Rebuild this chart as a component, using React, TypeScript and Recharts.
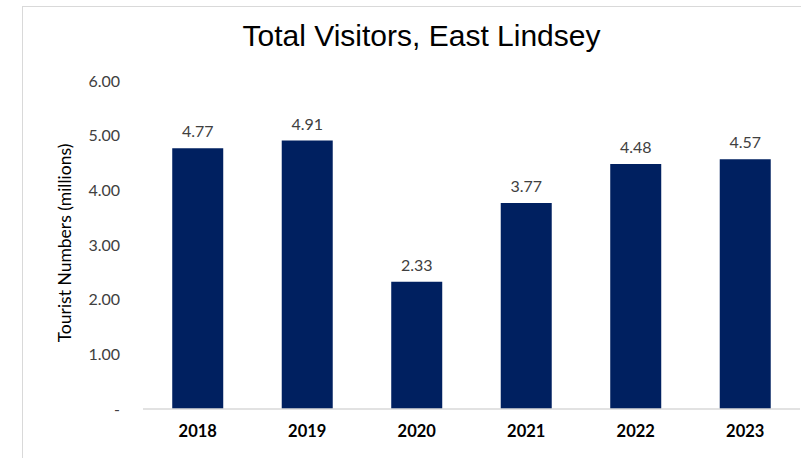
import { Bar, BarChart, LabelList, XAxis, YAxis } from "recharts"

const years = ["2018", "2019", "2020", "2021", "2022", "2023"]
const visitors = [4.77, 4.91, 2.33, 3.77, 4.48, 4.57]
const yTicks = [0, 1, 2, 3, 4, 5, 6]

const data = years.map((year, i) => ({ year, visitors: visitors[i] }))

const font = "Lato, 'Open Sans', sans-serif"

const YLabel = () => (
  <text
    x={0}
    y={0}
    transform="translate(71, 243) rotate(-90)"
    textAnchor="middle"
    fontFamily={font}
    fontSize={17.5}
    fill="#000000"
  >
    Tourist Numbers (millions)
  </text>
)

const App = () => {
  return (
    <div style={{ position: "absolute", left: 0, top: 0, width: 801, height: 458, background: "#fff", overflow: "hidden" }}>
      <div
        style={{
          position: "absolute",
          left: 22,
          top: 6,
          width: 800,
          height: 470,
          border: "1.5px solid #d9d9d9",
        }}
      />
      <div
        style={{
          position: "absolute",
          left: 0,
          top: 19,
          width: 843,
          textAlign: "center",
          fontFamily: "'Liberation Sans', Arial, sans-serif",
          fontSize: 30,
          color: "#000",
        }}
      >
        Total Visitors, East Lindsey
      </div>
      <div style={{ position: "absolute", left: 0, top: 0 }}>
        <BarChart
          width={801}
          height={458}
          data={data}
          margin={{ top: 81, right: 1, bottom: 19, left: 0 }}
          barCategoryGap="26.7%"
        >
          <XAxis
            dataKey="year"
            height={30}
            tickLine={false}
            axisLine={{ stroke: "#d9d9d9", strokeWidth: 1.5 }}
            tick={{ fontFamily: font, fontSize: 16.5, fontWeight: 700, fill: "#000" }}
            tickMargin={10}
          />
          <YAxis
            width={143}
            domain={[0, 6]}
            ticks={yTicks}
            axisLine={false}
            tickLine={false}
            tickSize={6}
            tickMargin={17}
            tick={{ fontFamily: font, fontSize: 16, fill: "#404040" }}
            tickFormatter={(v: number) => (v === 0 ? "-" : v.toFixed(2))}
            label={<YLabel />}
          />
          <Bar dataKey="visitors" fill="#002060" isAnimationActive={false}>
            <LabelList
              dataKey="visitors"
              position="top"
              offset={11}
              formatter={(v: number) => v.toFixed(2)}
              style={{ fontFamily: font, fontSize: 16, fill: "#404040" }}
            />
          </Bar>
        </BarChart>
      </div>
    </div>
  )
}

export default App
